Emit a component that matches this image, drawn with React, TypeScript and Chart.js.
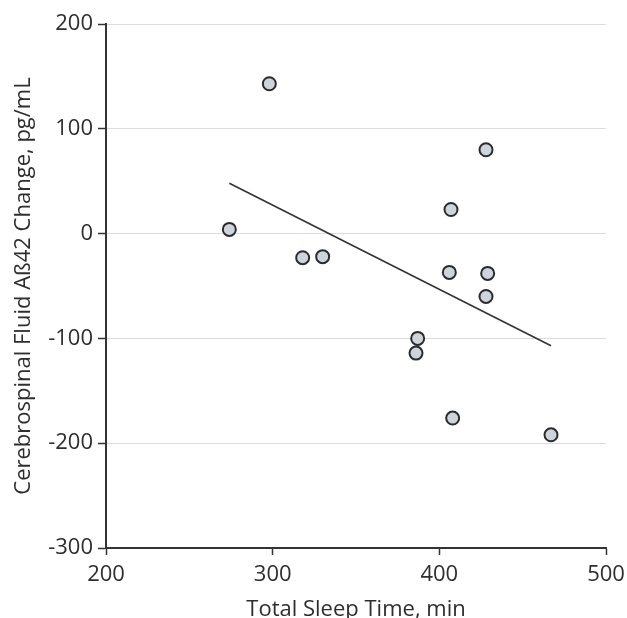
import React, { useEffect, useRef } from "react";
import { Chart, registerables } from "chart.js";

Chart.register(...registerables);

// Scatter points: total sleep time (min) vs CSF Aβ42 change (pg/mL)
const sleepMinutes = [298, 274, 318, 330, 428, 407, 406, 429, 428, 387, 386, 408, 467];
const abetaChange = [143, 4, -23, -22, 80, 23, -37, -38, -60, -100, -114, -176, -192];

// Fitted regression line endpoints
const fitLineX = [274, 467];
const fitLineY = [48, -107];

const xTicks = [200, 300, 400, 500];
const yTicks = [-300, -200, -100, 0, 100, 200];

const xTitle = "Total Sleep Time, min";
const yTitle = "Cerebrospinal Fluid Aß42 Change, pg/mL";

export default function App() {
  const canvasRef = useRef<HTMLCanvasElement | null>(null);

  useEffect(() => {
    const canvas = canvasRef.current;
    if (!canvas) return;
    const font = { family: "'Open Sans', sans-serif", size: 22 };
    const textColor = "#2e2e2e";
    const axisColor = "#333333";

    const chart = new Chart(canvas, {
      type: "scatter",
      data: {
        datasets: [
          {
            type: "scatter",
            data: sleepMinutes.map((x, i) => ({ x, y: abetaChange[i] })),
            pointRadius: 6.5,
            pointBorderWidth: 2,
            pointBackgroundColor: "#cdd4dc",
            pointBorderColor: "#2b2b2b",
          },
          {
            type: "line",
            data: fitLineX.map((x, i) => ({ x, y: fitLineY[i] })),
            borderColor: "#333333",
            borderWidth: 1.6,
            pointRadius: 0,
            fill: false,
          },
        ],
      },
      options: {
        animation: false,
        responsive: false,
        events: [],
        layout: { padding: { left: 0, top: 24, right: 21, bottom: 0 } },
        plugins: { legend: { display: false }, tooltip: { enabled: false } },
        scales: {
          x: {
            type: "linear",
            min: xTicks[0],
            max: xTicks[xTicks.length - 1],
            afterBuildTicks: (scale: any) => {
              scale.ticks = xTicks.map((v) => ({ value: v }));
            },
            afterFit: (scale: any) => {
              scale.height = 70;
              scale.paddingRight = 0;
              scale.paddingLeft = 0;
            },
            border: { display: true, color: axisColor, width: 2 },
            grid: {
              display: true,
              drawOnChartArea: false,
              drawTicks: true,
              tickLength: 7,
              tickColor: axisColor,
              tickWidth: 1.5,
            },
            ticks: { color: textColor, font, padding: 7, maxRotation: 0 },
            title: {
              display: true,
              text: xTitle,
              color: textColor,
              font,
              padding: { top: 0, bottom: -5.2 },
            },
          },
          y: {
            type: "linear",
            min: yTicks[0],
            max: yTicks[yTicks.length - 1],
            afterBuildTicks: (scale: any) => {
              scale.ticks = yTicks.map((v) => ({ value: v }));
            },
            afterFit: (scale: any) => {
              scale.width = 106;
              scale.paddingTop = 0;
              scale.paddingBottom = 0;
            },
            border: { display: true, color: axisColor, width: 2 },
            grid: {
              display: true,
              drawOnChartArea: true,
              color: "#dcdcdc",
              lineWidth: 1,
              drawTicks: true,
              tickLength: 8,
              tickColor: axisColor,
              tickWidth: 1.5,
            },
            ticks: { color: textColor, font, padding: 5 },
            title: {
              display: true,
              text: yTitle,
              color: textColor,
              font,
              padding: { top: 10.5, bottom: 0 },
            },
          },
        },
      },
    } as any);

    return () => chart.destroy();
  }, []);

  return (
    <div style={{ position: "absolute", left: 0, top: 0, width: 627, height: 618, background: "#ffffff" }}>
      <canvas ref={canvasRef} width={627} height={618} style={{ display: "block" }} />
    </div>
  );
}
